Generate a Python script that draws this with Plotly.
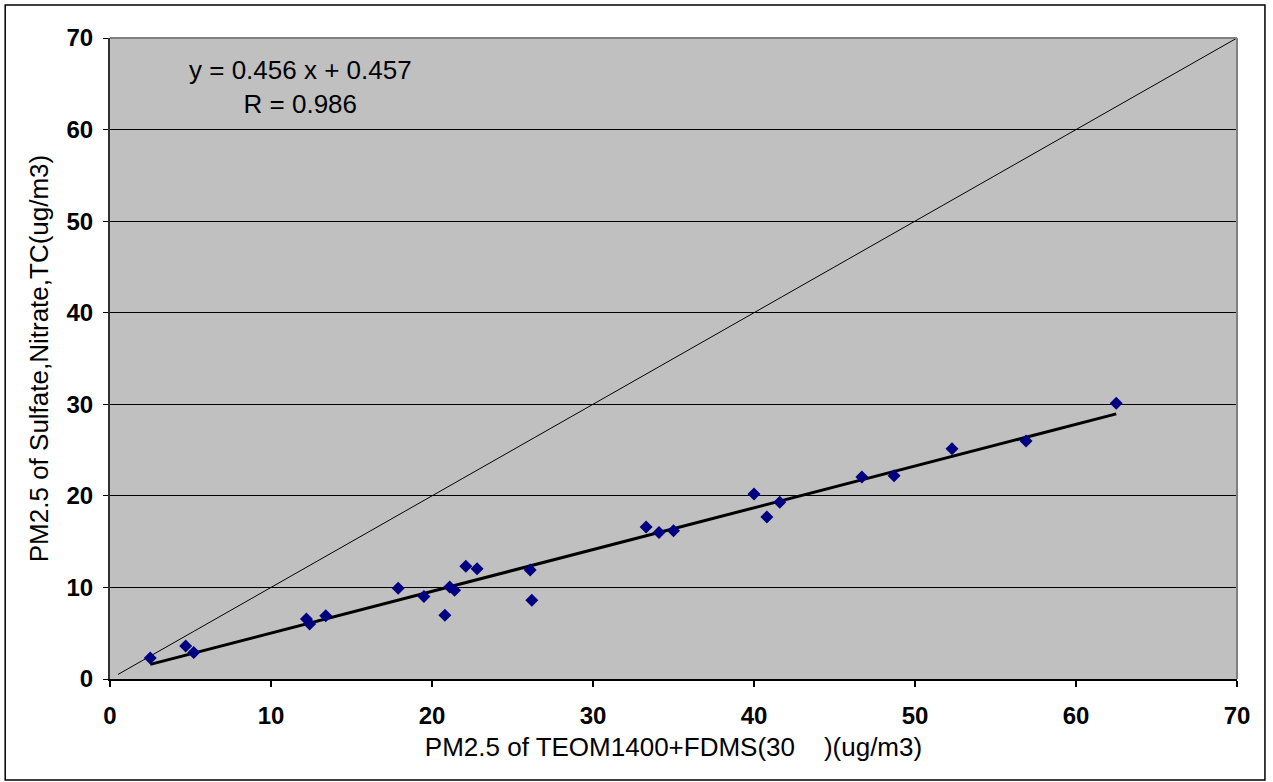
import plotly.graph_objects as go

# Data
teom_x = [2.5, 4.7, 5.2, 12.2, 12.4, 13.4, 17.9, 19.5, 20.8, 21.1, 21.4, 22.1, 22.8,
          26.1, 26.2, 33.3, 34.1, 35.0, 40.0, 40.8, 41.6, 46.7, 48.7, 52.3, 56.9, 62.5]
sum_y = [2.3, 3.6, 2.9, 6.55, 6.0, 6.9, 9.9, 9.0, 6.95, 10.05, 9.7, 12.3, 12.05,
         11.9, 8.6, 16.6, 16.0, 16.2, 20.2, 17.7, 19.3, 22.05, 22.2, 25.15, 26.0, 30.1]
slope = 0.456
intercept = 0.457
r_value = 0.986
one_to_one = [0.5, 70]
x_ticks = [0, 10, 20, 30, 40, 50, 60, 70]
y_ticks = [0, 10, 20, 30, 40, 50, 60, 70]

fit_x = [min(teom_x), max(teom_x)]
fit_y = [slope * v + intercept for v in fit_x]

FONT = "Liberation Sans, Arial, sans-serif"

fig = go.Figure()
fig.add_trace(go.Scatter(x=one_to_one, y=one_to_one, mode="lines",
                         line=dict(color="black", width=1), hoverinfo="skip"))
fig.add_trace(go.Scatter(x=fit_x, y=fit_y, mode="lines",
                         line=dict(color="black", width=3), hoverinfo="skip"))
fig.add_trace(go.Scatter(x=teom_x, y=sum_y, mode="markers",
                         marker=dict(symbol="diamond", color="#000080", size=10,
                                     line=dict(width=0))))

fig.update_layout(
    width=1273, height=782,
    margin=dict(l=110, r=36, t=38, b=103),
    paper_bgcolor="white", plot_bgcolor="#C0C0C0",
    showlegend=False,
    font=dict(family=FONT, color="black"),
)
fig.update_xaxes(range=[0, 70], tickvals=x_ticks, showgrid=False, zeroline=False,
                 showline=True, linecolor="black", linewidth=2, mirror=False,
                 ticks="outside", ticklen=6, tickcolor="black", tickwidth=2,
                 ticklabelstandoff=8,
                 tickfont=dict(size=24, family=FONT, weight="bold"),
                 title=dict(text="PM2.5 of TEOM1400+FDMS(30    )(ug/m3)",
                            font=dict(size=26, family=FONT), standoff=10))
fig.update_yaxes(range=[0, 70], tickvals=y_ticks, showgrid=True, gridcolor="black",
                 gridwidth=1, zeroline=False,
                 showline=True, linecolor="#303030", linewidth=2,
                 ticks="outside", ticklen=5, tickcolor="black", tickwidth=1,
                 ticklabelstandoff=5,
                 tickfont=dict(size=24, family=FONT, weight="bold"),
                 title=dict(text="PM2.5 of Sulfate,Nitrate,TC(ug/m3)",
                            font=dict(size=26, family=FONT), standoff=10))

# plot area top/right border
fig.add_shape(type="line", xref="paper", yref="paper", x0=0, x1=1, y0=1, y1=1,
              line=dict(color="#808080", width=2))
fig.add_shape(type="line", xref="paper", yref="paper", x0=1, x1=1, y0=0, y1=1,
              line=dict(color="#808080", width=2))
# outer chart border
fig.add_shape(type="rect", xref="paper", yref="paper",
              x0=-0.093, x1=1.0248, y0=-0.1576, y1=1.0515,
              line=dict(color="black", width=1.5), layer="below")

fig.add_annotation(x=0.169, y=0.9236, xref="paper", yref="paper",
                   xanchor="center", yanchor="middle",
                   text=f"y = {slope} x + {intercept}<br>R = {r_value}",
                   showarrow=False, align="center",
                   font=dict(size=26, family=FONT))

fig.write_html("out.html")
